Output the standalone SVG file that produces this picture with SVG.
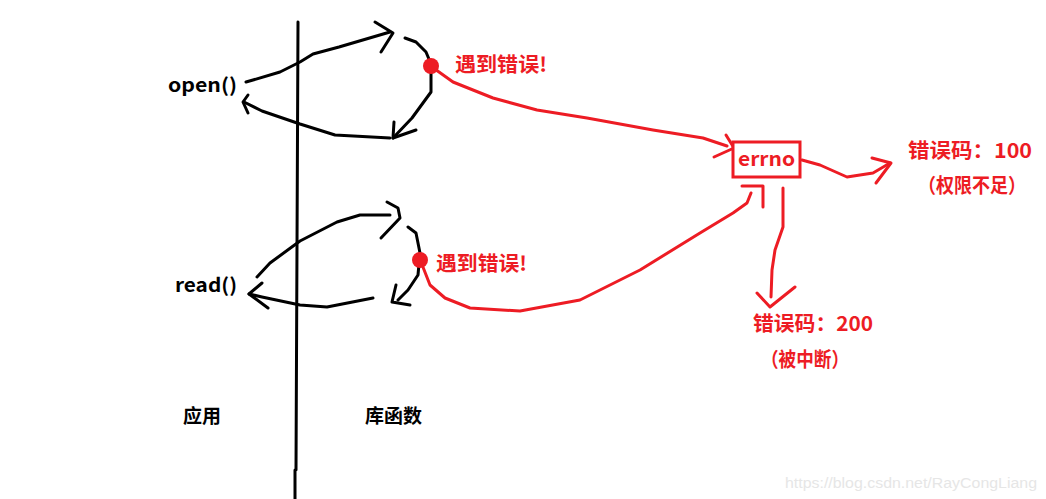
<svg xmlns="http://www.w3.org/2000/svg" width="1046" height="499" viewBox="0 0 1046 499">
<style>
.k{fill:none;stroke:#000;stroke-width:3;stroke-linecap:round;stroke-linejoin:round}
.r{fill:none;stroke:#ed1c24;stroke-width:3;stroke-linecap:round;stroke-linejoin:round}
.t{font-family:"Noto Sans CJK SC","Liberation Sans",sans-serif;font-weight:bold}
.tk{fill:#000;font-size:19px}
.tr{fill:#ed1c24;font-size:20px}
</style>
<rect width="1046" height="499" fill="#fff"/>
<g id="divider">
<path class="k" d="M298,22 L296,470 M295,470 L295,499"/>
</g>
<g id="connectors">
<!-- open() call -->
<path class="k" d="M246,82 L253,80 L280,72 L300,62 L313,54 L339,47 L390,32"/>
<path class="k" d="M375,22 L393,33 L381,52"/>
<path class="k" d="M405,38 L416,42 L426,52 L431,64 L431,92 L412,118 L393,138"/>
<path class="k" d="M394,122 L393,138 L416,130"/>
<path class="k" d="M390,138 L335,135 L300,124 L262,111 L244,102"/>
<path class="k" d="M248,113 L243,102 L248,95"/>
<!-- read() call -->
<path class="k" d="M257,277 L270,263 L300,241 L337,222 L360,215 L390,215"/>
<path class="k" d="M387,202 L398,208 L400,218 L381,238"/>
<path class="k" d="M408,227 L416,233 L420,253 L418,275 L408,290 L398,300"/>
<path class="k" d="M396,285 L392,302 L410,305"/>
<path class="k" d="M373,298 L327,307 L300,305 L262,297 L249,294"/>
<path class="k" d="M268,308 L249,294 L262,283"/>
<!-- red connectors -->
<path class="r" d="M432,67 L453,82 L493,98 L537,110 L587,118 L653,130 L703,138 L727,146"/>
<path class="r" d="M726,135 L734,148 L714,157"/>
<path class="r" d="M802,160 L820,165 L847,177 L873,173 L890,163"/>
<path class="r" d="M872,158 L891,163 L876,183"/>
<path class="r" d="M421,262 L430,285 L445,298 L470,308 L520,311 L580,300 L640,270 L700,233 L733,213 L747,203 L751,193"/>
<path class="r" d="M742,186 L763,186 L763,207"/>
<path class="r" d="M783,188 L783,227 L775,250 L772,270 L771,297"/>
<path class="r" d="M757,293 L770,307 L795,287"/>
</g>
<g id="open-node">
<text class="t tk" x="168" y="92" textLength="69" lengthAdjust="spacingAndGlyphs">open()</text>
</g>
<g id="read-node">
<text class="t tk" x="175" y="292" textLength="62" lengthAdjust="spacingAndGlyphs">read()</text>
</g>
<g id="error-1">
<circle cx="431" cy="66" r="8" fill="#ed1c24"/>
<text class="t tr" x="455" y="72" font-size="19" textLength="92" lengthAdjust="spacingAndGlyphs">遇到错误!</text>
</g>
<g id="error-2">
<circle cx="420" cy="260" r="8" fill="#ed1c24"/>
<text class="t tr" x="436" y="271" font-size="19" textLength="91" lengthAdjust="spacingAndGlyphs">遇到错误!</text>
</g>
<g id="errno">
<rect x="733" y="142" width="67" height="35" fill="#fff" stroke="#ed1c24" stroke-width="3"/>
<text class="t tr" x="738" y="166" textLength="57" lengthAdjust="spacingAndGlyphs">errno</text>
</g>
<g id="code-100">
<text class="t tr" x="908" y="158" textLength="124" lengthAdjust="spacingAndGlyphs">错误码：100</text>
<text class="t tr" x="918" y="193" textLength="108" lengthAdjust="spacingAndGlyphs">（权限不足）</text>
</g>
<g id="code-200">
<text class="t tr" x="753" y="331" textLength="120" lengthAdjust="spacingAndGlyphs">错误码：200</text>
<text class="t tr" x="761" y="367" textLength="88" lengthAdjust="spacingAndGlyphs">（被中断）</text>
</g>
<g id="labels">
<text class="t tk" x="183" y="423" font-size="20">应用</text>
<text class="t tk" x="365" y="423" font-size="20">库函数</text>
</g>
<text x="785" y="488" font-family="Liberation Sans,sans-serif" font-size="14" fill="#e6e6e6" textLength="252" lengthAdjust="spacingAndGlyphs">https://blog.csdn.net/RayCongLiang</text>
</svg>
